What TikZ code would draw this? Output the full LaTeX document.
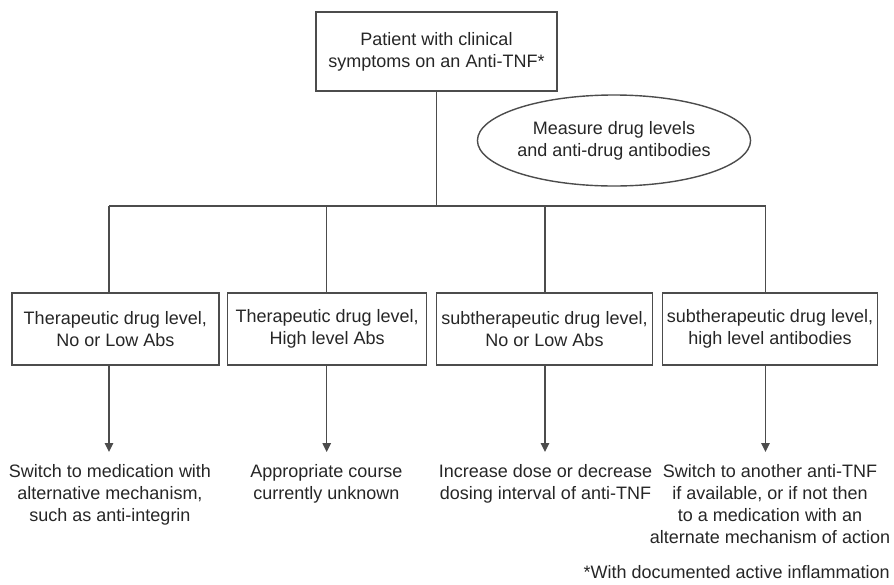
\documentclass[tikz,border=0pt]{standalone}
\usepackage{fontspec}
\setmainfont{Liberation Sans}
\usetikzlibrary{shapes.geometric,arrows.meta}
\begin{document}
\begin{tikzpicture}[x=1pt,y=-1pt,
  every node/.style={font=\fontsize{18}{22}\selectfont, text=black!85},
  box/.style={draw=black!70, line width=1.4pt, rectangle, align=center, inner sep=0pt, minimum height=72pt},
  oval/.style={draw=black!70, line width=1.4pt, ellipse, align=center, inner sep=0pt},
  outtext/.style={align=center, inner xsep=0pt, inner ysep=12pt, anchor=north},
  link/.style={draw=black!70, line width=1.4pt},
  arr/.style={link, -{Triangle[width=8.5pt,length=9pt]}}]
\useasboundingbox (0,0) rectangle (894,584);

\node[box, minimum width=241pt, minimum height=79pt] (top) at (436.5,51.5) {Patient with clinical\\symptoms on an Anti-TNF*};
\node[oval, minimum width=237pt, minimum height=91pt] (meas) at (614,140.5) {Measure drug levels\\and anti-drug antibodies};

\node[box, minimum width=207pt] (b1) at (115.3,329) {Therapeutic drug level,\\No or Low Abs};
\node[box, minimum width=199pt] (b2) at (327.2,329) {Therapeutic drug level,\\High level Abs};
\node[box, minimum width=215.6pt] (b3) at (544.5,329) {subtherapeutic drug level,\\No or Low Abs};
\node[box, minimum width=214.6pt] (b4) at (770,329) {subtherapeutic drug level,\\high level antibodies};

\node[outtext] (o1) at (110,452) {Switch to medication with\\alternative mechanism,\\such as anti-integrin};
\node[outtext] (o2) at (326.5,452) {Appropriate course\\currently unknown};
\node[outtext] (o3) at (545.5,452) {Increase dose or decrease\\dosing interval of anti-TNF};
\node[outtext] (o4) at (770,452) {Switch to another anti-TNF\\if available, or if not then\\to a medication with an\\alternate mechanism of action};

\node[inner sep=0pt, anchor=base east] (fn) at (890,578) {*With documented active inflammation};

\coordinate (h1) at (109,206);
\coordinate (h2) at (326.7,206);
\coordinate (h3) at (545,206);
\coordinate (h4) at (765.5,206);

\draw[link] (top.south) -- (top.south |- h1);
\draw[link] (h1) -- (h4);
\draw[link] (h1) -- (h1 |- b1.north);
\draw[link] (h2) -- (h2 |- b2.north);
\draw[link] (h3) -- (h3 |- b3.north);
\draw[link] (h4) -- (h4 |- b4.north);

\draw[arr] (h1 |- b1.south) -- (h1 |- o1.north);
\draw[arr] (h2 |- b2.south) -- (h2 |- o2.north);
\draw[arr] (h3 |- b3.south) -- (h3 |- o3.north);
\draw[arr] (h4 |- b4.south) -- (h4 |- o4.north);
\end{tikzpicture}
\end{document}
